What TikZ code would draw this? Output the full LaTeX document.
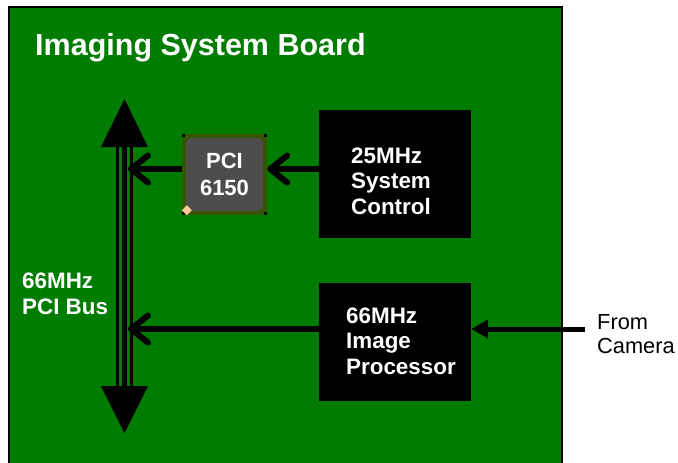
\documentclass[tikz,border=0pt]{standalone}
\usepackage{fontspec}
\setmainfont{Liberation Sans}
\usetikzlibrary{arrows.meta}
\definecolor{boardgreen}{RGB}{0,125,0}
\definecolor{chipgray}{RGB}{77,77,77}
\definecolor{chipolive}{RGB}{55,85,0}
\definecolor{padpeach}{RGB}{255,204,153}

\begin{document}
\begin{tikzpicture}[x=1pt,y=-1pt]
  \tikzset{
    blockbox/.style={fill=black,minimum width=152pt,inner sep=0pt},
    whitetext/.style={text=white,font=\bfseries\fontsize{22.4}{25.5}\selectfont,align=left,inner sep=0pt,anchor=base west},
    chipbox/.style={fill=chipolive,minimum width=85pt,minimum height=81pt,inner sep=0pt,
      text=white,align=center,font=\bfseries\fontsize{22}{27}\selectfont,
      path picture={
        \fill[chipgray,rounded corners=5pt] ([shift={(4,4)}]path picture bounding box.north west)
          rectangle ([shift={(-4,-4)}]path picture bounding box.south east);
      }},
    barb/.style={line width=6pt,-{Straight Barb[round,length=17pt,width=27pt]}},
    campin/.style={line width=5pt,-{Triangle[length=17pt,width=18pt]}}
  }

  % page size
  \useasboundingbox (0,0) rectangle (678,463);
  \clip (0,0) rectangle (678,463);

  % the board
  \draw[fill=boardgreen,line width=2pt] (9,7) rectangle (562,480);
  \node[whitetext,font=\bfseries\fontsize{30.5}{30}\selectfont] (title) at (35,55) {Imaging System Board};

  % PCI bus
  \coordinate (bustop) at (124.5,99);
  \coordinate (busbot) at (124.5,433);
  \coordinate (busR) at (128,266);
  \foreach \dx/\w in {-7/3.5,0/5,7/3.5}
  {
    \draw[line width=\w pt] (124.5+\dx,146) -- (124.5+\dx,387); % bus wires
  }
  \fill (bustop) -- ++(-23.5,48) -- ++(47,0) -- cycle;
  \fill (busbot) -- ++(-23.5,-47) -- ++(47,0) -- cycle;
  \node[whitetext] (bustext) at (22,314) {66MHz\\PCI Bus};

  % blocks
  \node[blockbox,minimum height=128pt] (ctrl) at (395,174) {};
  \node[whitetext] (ctrltext) at (351,214) {25MHz\\System\\Control};
  \node[blockbox,minimum height=118pt] (proc) at (395,342) {};
  \node[whitetext] (proctext) at (346,374) {66MHz\\Image\\Processor};

  % bridge chip
  \node[chipbox] (chip) at (224.5,174.5) {PCI\\6150};
  \fill (chip.north west) rectangle ++(3,3);
  \fill (chip.north east) rectangle ++(-3,3);
  \fill (chip.south east) rectangle ++(-3,-3);
  \fill (chip.south west) rectangle ++(3,-3);
  \fill[padpeach] ([shift={(5,-5)}]chip.south west) +(0,-5) -- +(5,0) -- +(0,5) -- +(-5,0) -- cycle;

  % connectors
  \coordinate (ctrlrow) at (0,169);
  \coordinate (procrow) at (0,329);
  \draw[barb] (ctrl.west |- ctrlrow) -- (chip.east |- ctrlrow);
  \draw[barb] (chip.west |- ctrlrow) -- (busR |- ctrlrow);
  \draw[barb] (proc.west |- procrow) -- (busR |- procrow);
  \coordinate (cam) at (585,329);
  \draw[campin] (cam) -- (proc.east |- cam);
  \node[anchor=base west,inner sep=0pt,align=left,font=\fontsize{21.8}{24}\selectfont] (camtext) at (597,353) {From\\Camera};
\end{tikzpicture}
\end{document}
